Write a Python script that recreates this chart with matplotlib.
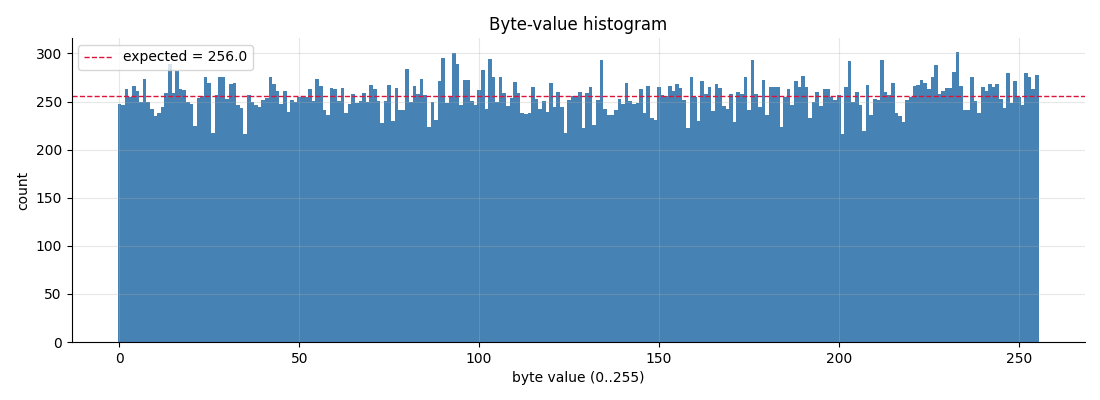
import numpy as np
import matplotlib
matplotlib.use("Agg")
import matplotlib.pyplot as plt

# counts per byte value
counts = [
    247, 246, 263, 255, 266, 261, 250, 273, 250, 242, 235, 238, 244, 259, 289, 259,
    282, 263, 262, 249, 247, 225,
    254, 256, 275, 269, 217, 257, 276, 275, 253, 268, 269, 246, 243, 216, 257, 250,
    246, 244, 252, 254, 275, 268, 261, 247, 261, 239,
    252, 250, 255, 255, 255, 263, 251, 273, 266, 241, 236, 264, 263, 251, 264, 238,
    247, 258, 248, 251, 259, 250, 267, 263, 251, 228, 251, 267,
    230, 264, 241, 241, 284, 250, 266, 258, 273, 257, 224, 249, 231, 271, 295, 248,
    255, 300, 289, 246, 272, 272, 251, 246, 262, 283, 242,
    294, 276, 249, 275, 259, 245, 254, 270, 259, 238, 237, 238, 265, 253, 242, 251,
    239, 269, 244, 260, 244, 217, 252, 256, 256, 260,
    223, 259, 265, 226, 252, 293, 242, 236, 236, 241, 253, 247, 269, 251, 247, 248,
    263, 238, 266, 233, 231, 265, 257, 256, 266, 261, 268,
    264, 252, 223, 276, 255, 230, 271, 258, 265, 240, 268, 264, 245, 242, 258, 229,
    260, 258, 276, 241, 293, 258, 244, 272, 236, 265, 265, 265,
    224, 255, 263, 246, 271, 265, 277, 265, 233, 249, 260, 245, 263, 263, 255, 252,
    257, 216, 265, 292, 249, 260, 246, 219, 267, 236, 253, 252,
    293, 260, 257, 269, 238, 235, 229, 252, 255, 266, 267, 272, 269, 263, 276, 288,
    258, 261, 264, 264, 281, 301, 266, 241, 241, 276, 251, 238,
    265, 261, 268, 265, 268, 253, 243, 280, 248, 271, 255, 246, 280, 275, 263, 278,
]
byte_values = np.arange(256)
n_bytes = 65536
expected = n_bytes / 256

fig, ax = plt.subplots(figsize=(11, 4), dpi=100)
fig.subplots_adjust(left=0.065, right=0.986, top=0.905, bottom=0.145)

ax.bar(byte_values, counts, width=1.0, color="steelblue", linewidth=0)
ax.axhline(expected, color="crimson", linestyle="--", linewidth=1,
           label=f"expected = {expected:.1f}")

ax.set_title("Byte-value histogram")
ax.set_xlabel("byte value (0..255)")
ax.set_ylabel("count")
ax.grid(True, alpha=0.3)
ax.spines["top"].set_visible(False)
ax.spines["right"].set_visible(False)
ax.legend(loc="upper left")

plt.savefig("out.png")
